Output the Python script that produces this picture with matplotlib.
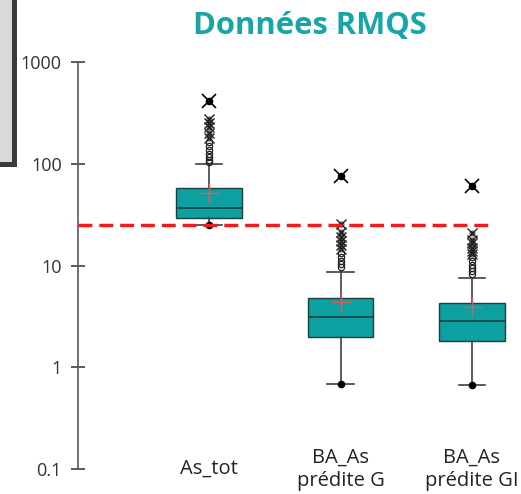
import numpy as np
import matplotlib
matplotlib.use("Agg")
import matplotlib.pyplot as plt
from matplotlib.patches import Rectangle

# values (log scale)
categories = ["As_tot", "BA_As\nprédite G", "BA_As\nprédite GI"]
q1 = [29.3, 1.98, 1.81]
median = [36.7, 3.12, 2.85]
q3 = [57.8, 4.79, 4.28]
whis_low = [25.0, 0.685, 0.67]
whis_high = [100.0, 8.6, 7.5]
means = [51.6, 4.38, 3.91]
maxima = [414, 75.8, 60.4]
outliers_near = [
    [105, 109, 116, 125, 136, 149, 164],
    [9.7, 10.4, 11.1, 12.1, 13.3],
    [8.2, 8.8, 9.5, 10.2, 11.0, 12.0],
]
outliers_far = [
    [179, 200, 229, 251, 275],
    [14.5, 15.9, 17.4, 19.1, 21.3, 25.6],
    [13.0, 14.0, 15.0, 16.5, 17.8, 21.0],
]
threshold = 25.0

teal = "#0ca0a0"
grey = "#404040"

plt.rcParams["font.family"] = ["Open Sans", "DejaVu Sans"]
fig = plt.figure(figsize=(5.21, 4.94), dpi=100)
ax = fig.add_axes([78 / 521, 1 - 469 / 494, 443 / 521, 407 / 494])

pos = np.arange(1, len(categories) + 1)
stats = []
for i in range(len(categories)):
    stats.append({
        "med": median[i], "q1": q1[i], "q3": q3[i],
        "whislo": whis_low[i], "whishi": whis_high[i],
        "mean": means[i], "fliers": [],
    })

ax.bxp(stats, positions=pos, widths=0.5, capwidths=0.2, showmeans=True,
       patch_artist=True, showfliers=False,
       boxprops=dict(facecolor=teal, edgecolor="#1f3f3f", linewidth=1.0),
       medianprops=dict(color="#1f3f3f", linewidth=1.2),
       whiskerprops=dict(color=grey, linewidth=1.2),
       capprops=dict(color=grey, linewidth=1.2),
       meanprops=dict(marker="+", markeredgecolor="#e05a5a", markersize=14,
                      markeredgewidth=1.0))

for i, p in enumerate(pos):
    near = outliers_near[i]
    far = outliers_far[i]
    ax.plot([p] * len(near), near, "o", mfc="none", mec="#222222", ms=4.5, mew=0.9)
    ax.plot([p] * len(far), far, "x", color="#222222", ms=6.5, mew=1.0)
    ax.plot([p] * len(far), far, "o", mfc="none", mec="#222222", ms=3.5, mew=0.7)
    ax.plot(p, maxima[i], "o", color="black", ms=4.5)
    ax.plot(p, maxima[i], "x", color="black", ms=10, mew=1.2)
    ax.plot(p, whis_low[i], "o", color="black", ms=4.5)

ax.plot([0, 3.15], [threshold, threshold], color="#ee1c1c", linewidth=2.5,
        linestyle=(0, (4, 2)), zorder=5)

ax.set_yscale("log")
ax.set_ylim(0.1, 1000)
ax.set_xlim(0, 3.374)
ax.set_yticks([0.1, 1, 10, 100, 1000])
ax.set_yticklabels(["0.1", "1", "10", "100", "1000"])
ax.minorticks_off()
ax.tick_params(axis="y", direction="inout", length=9.5, width=1.2, color=grey,
               labelsize=13, labelcolor="#333333", pad=7)
ax.set_xticks([])
for s in ["top", "right", "bottom"]:
    ax.spines[s].set_visible(False)
ax.spines["left"].set_color("#595959")
ax.spines["left"].set_linewidth(1.2)

for i, p in enumerate(pos):
    ax.text(p, 0.1, categories[i], ha="center", va="center", fontsize=14.5,
            color="#222222", linespacing=1.2, clip_on=False)

fig.text(310 / 521, 1 - 26 / 494, "Données RMQS", ha="center", va="center",
         fontsize=22.3, fontweight="bold", color="#17a5a5")

# grey panel cut at the top left corner
fig.patches.append(Rectangle((-0.02, 1 - 164.5 / 494), 13.5 / 521 + 0.02, 0.5,
                             transform=fig.transFigure, facecolor="#d9d9d9",
                             edgecolor="#3a3a3a", linewidth=3.6))

fig.savefig("out.png", dpi=100)
